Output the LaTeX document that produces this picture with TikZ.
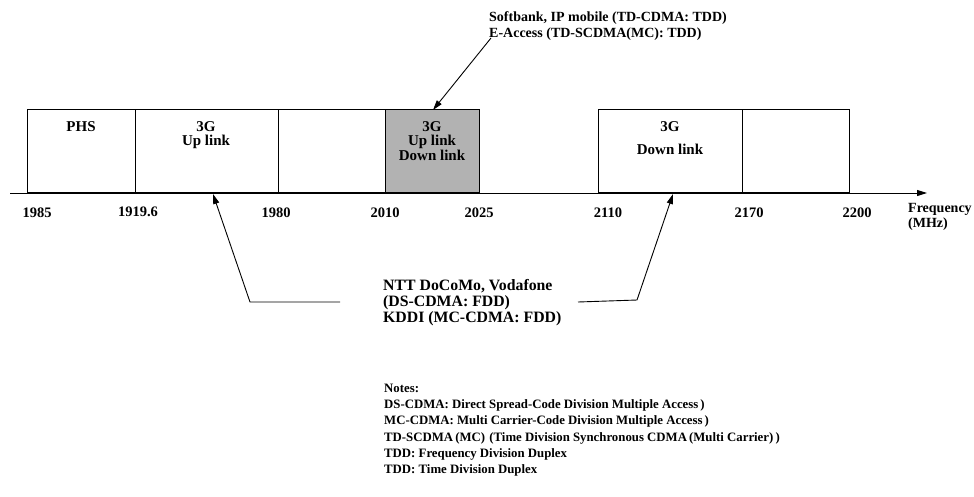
\documentclass[tikz,border=0pt]{standalone}
\usepackage{fontspec}
\setmainfont{Liberation Serif}
\usetikzlibrary{arrows.meta}
\begin{document}
\begin{tikzpicture}[x=1pt,y=-1pt,
  band/.style={draw, line width=0.9pt, anchor=south west, inner sep=0pt, minimum height=83pt},
  lbl/.style={font=\bfseries\fontsize{15}{14.5}\selectfont, align=center, inner sep=0pt, anchor=north},
  ticklbl/.style={font=\bfseries\fontsize{14.5}{16}\selectfont, anchor=base, inner sep=0pt},
  txt/.style={font=\bfseries\fontsize{15.8}{16.3}\selectfont, align=left, anchor=north west, inner sep=0pt},
  arr/.style={line width=0.9pt, -{Triangle[length=10pt,width=6pt]}}]
\useasboundingbox (0,0) rectangle (974,496);
% bands
\node[band, minimum width=108pt] (phs) at (27,193) {};
\node[band, minimum width=143pt] (up) at (135,193) {};
\node[band, minimum width=107pt] (e1) at (278,193) {};
\node[band, minimum width=94pt, fill=black!30] (sh) at (385,193) {};
\node[band, minimum width=144pt] (dn) at (598,193) {};
\node[band, minimum width=107pt] (e2) at (742,193) {};
% axis
\coordinate (a0) at (10,193);
\coordinate (a1) at (927,193);
\draw[arr] (a0) -- (a1);
% band labels
\node[lbl] (lphs) at (81,121) {PHS};
\node[lbl] (lup) at (206,121) {3G\\Up link};
\node[lbl] (lsh) at (432,121) {3G\\Up link\\Down link};
\node[lbl] (ldn) at (670,121) {3G\\[9pt]Down link};
% tick labels
\node[ticklbl] (t1) at (37,217) {1985};
\node[ticklbl] (t2) at (138,216) {1919.6};
\node[ticklbl] (t3) at (276,217) {1980};
\node[ticklbl] (t4) at (385,217) {2010};
\node[ticklbl] (t5) at (479,217) {2025};
\node[ticklbl] (t6) at (608,217) {2110};
\node[ticklbl] (t7) at (749,217) {2170};
\node[ticklbl] (t8) at (857,217) {2200};
\node[txt, font=\bfseries\fontsize{14}{15}\selectfont] (freq) at (908,203) {Frequency\\(MHz)};
% top text
\node[txt, font=\bfseries\fontsize{14}{16}\selectfont] (toptxt) at (489,11) {Softbank, IP mobile (TD-CDMA: TDD)\\E-Access (TD-SCDMA(MC): TDD)};
\coordinate (tsrc) at (491,38);
\coordinate (shtop) at (433,110);
\draw[arr] (tsrc) -- (shtop);
% middle text
\node[txt] (mid) at (383,279) {NTT DoCoMo, Vodafone\\(DS-CDMA: FDD)\\KDDI (MC-CDMA: FDD)};
\coordinate (lA) at (340,302);
\coordinate (lB) at (250,302);
\coordinate (lC) at (213,194);
\coordinate (rA) at (578,302);
\coordinate (rB) at (637,300);
\coordinate (rC) at (673,194);
\draw[arr] (lA) -- (lB) -- (lC);
\draw[arr] (rA) -- (rB) -- (rC);
% notes
\node[txt, font=\bfseries\fontsize{12.8}{16.2}\selectfont] (notes) at (384,384) {Notes:\\
DS-CDMA: Direct Spread-Code Division Multiple Access\,)\\
MC-CDMA: Multi Carrier-Code Division Multiple Access\,)\\
TD-SCDMA\,(MC)\,\,(Time Division Synchronous CDMA\,(Multi Carrier)\,)\\
TDD: Frequency Division Duplex\\
TDD: Time Division Duplex};
\end{tikzpicture}
\end{document}
